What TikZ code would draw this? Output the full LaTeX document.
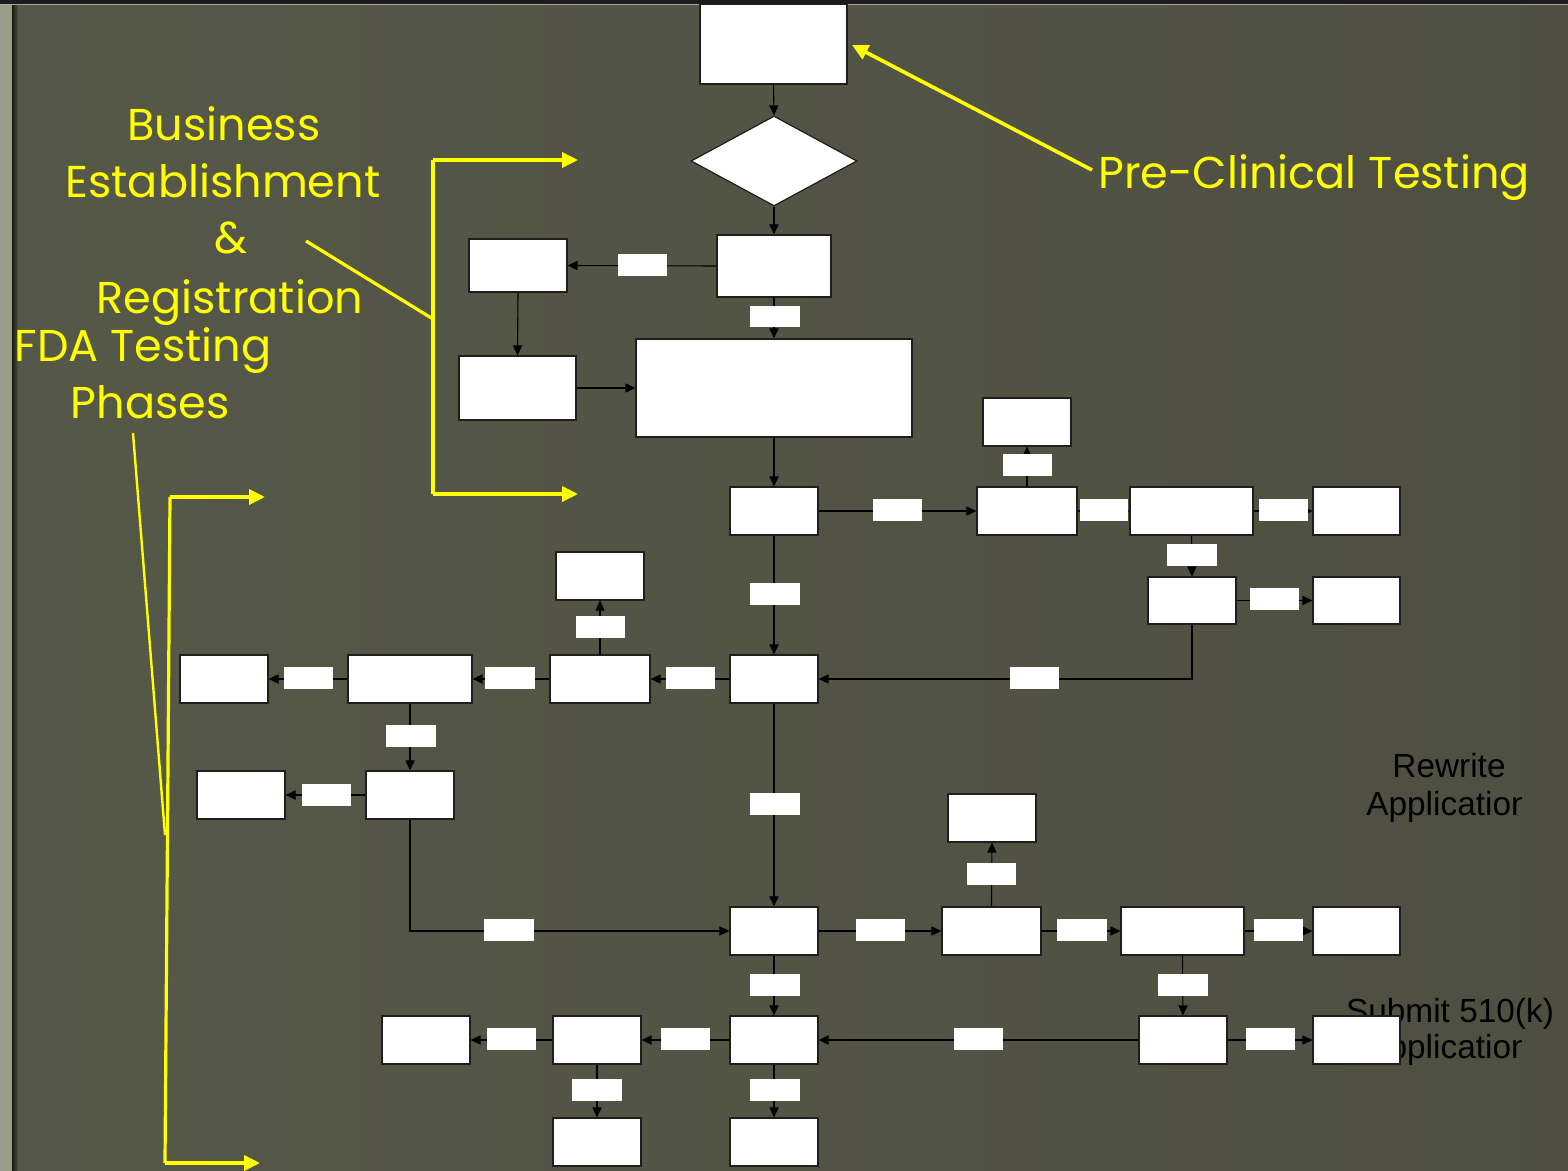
\documentclass[tikz,border=0pt]{standalone}
\usepackage{fontspec}
\setmainfont{Liberation Sans}
\newfontfamily\gothic{Poppins}
\usetikzlibrary{arrows.meta,shapes.geometric}
\definecolor{bgcol}{HTML}{525444}
\definecolor{bgdark}{HTML}{4A4B3E}
\definecolor{stripcol}{HTML}{9B9B8A}
\definecolor{topcol}{HTML}{1C1C1C}
\definecolor{yel}{HTML}{FFFF00}
\definecolor{edge}{HTML}{1E1E1E}
\tikzset{
  box/.style={draw=edge,line width=0.6pt,fill=white,inner sep=0pt},
  lbl/.style={fill=white,inner sep=0pt},
  conn/.style={draw=black,line width=0.55pt,-{Triangle[length=5pt,width=4.6pt]}},
  yarrow/.style={draw=yel,line width=1.8pt,-{Triangle[length=8pt,width=7.5pt]}},
  yline/.style={draw=yel,line width=1.6pt},
  ytext/.style={text=yel,font=\gothic\fontsize{22.3}{26}\selectfont,inner sep=0pt,anchor=base},
  btext/.style={text=black,font=\fontsize{16.7}{20}\selectfont,inner sep=0pt,anchor=base}
}
\newcommand\mybox[5]{\node[box,minimum width={(#4-#2)*0.5pt},minimum height={(#5-#3)*0.5pt}] (#1) at ({(#2+#4)/2},{(#3+#5)/2}) {};}
\newcommand\mylbl[5]{\node[lbl,minimum width={(#4-#2)*0.5pt},minimum height={(#5-#3)*0.5pt}] (#1) at ({(#2+#4)/2},{(#3+#5)/2}) {};}
\begin{document}
\begin{tikzpicture}[x=0.5pt,y=-0.5pt]
\useasboundingbox (0,0) rectangle (1568,1171);
% background
\shade[left color=bgcol!95!white,right color=bgdark] (0,0) rectangle (1568,1171);
\fill[bgcol,opacity=0.5] (0,0) rectangle (1568,1171);
\fill[stripcol] (0,0) rectangle (12,1171);
\shade[left color=black!70!bgcol,right color=bgcol] (12,0) rectangle (18,1171);
\fill[topcol] (0,0) rectangle (1568,4);
\draw[gray!70,line width=0.5pt] (0,4.5) -- (1568,4.5);

% black texts (behind boxes)
\node[btext] (rw1) at (1449,777) {Rewrite};
\begin{scope}
\clip (1300,700) rectangle (1521,1100);
\node[btext] (rw2) at (1448,815) {Application};
\node[btext] (sb2) at (1448,1058) {Application};
\end{scope}
\node[btext] (sb1) at (1450,1022) {Submit 510(k)};

% boxes
\mybox{top}{700}{4}{847}{84}
\node[box,shape=diamond,minimum width=83pt,minimum height=45pt] (dia) at (774,161) {};
\mybox{B}{717}{235}{831}{297}
\mybox{C}{469}{239}{567}{292}
\mybox{D}{459}{356}{576}{420}
\mybox{E}{636}{339}{912}{437}
\mybox{F}{730}{487}{818}{535}
\mybox{G}{977}{487}{1077}{535}
\mybox{H}{983}{398}{1071}{446}
\mybox{I}{1130}{487}{1253}{535}
\mybox{J}{1313}{487}{1400}{535}
\mybox{K}{1148}{577}{1236}{624}
\mybox{L}{1313}{577}{1400}{624}
\mybox{M}{730}{655}{818}{703}
\mybox{N}{550}{655}{650}{703}
\mybox{O}{556}{552}{644}{600}
\mybox{P}{348}{655}{472}{703}
\mybox{Q}{180}{655}{268}{703}
\mybox{R}{366}{771}{454}{819}
\mybox{S}{197}{771}{285}{819}
\mybox{T}{730}{907}{818}{955}
\mybox{U}{942}{907}{1041}{955}
\mybox{V}{948}{794}{1036}{842}
\mybox{W}{1121}{907}{1244}{955}
\mybox{X}{1313}{907}{1400}{955}
\mybox{Y}{1139}{1016}{1227}{1064}
\mybox{Z}{1313}{1016}{1400}{1064}
\mybox{AA}{730}{1016}{818}{1064}
\mybox{AB}{553}{1016}{641}{1064}
\mybox{AC}{382}{1016}{470}{1064}
\mybox{AD}{553}{1118}{641}{1166}
\mybox{AE}{730}{1118}{818}{1166}

% connectors
\draw[conn] (top.south) -- (dia.north);
\draw[conn] (dia.south) -- (B.north);
\draw[conn] (B.west) -- (C.east);
\draw[conn] (C.south) -- (D.north);
\draw[conn] (D.east) -- (E.west);
\draw[conn] (B.south) -- (E.north);
\draw[conn] (E.south) -- (F.north);
\draw[conn] (F.east) -- (G.west);
\draw[conn] (G.north) -- (H.south);
\draw[conn] (G.east) -- (I.west);
\draw[conn] (I.east) -- (J.west);
\draw[conn] (I.south) -- (K.north);
\draw[conn] (K.east) -- (L.west);
\draw[conn] (K.south) |- (M.east);
\draw[conn] (F.south) -- (M.north);
\draw[conn] (M.west) -- (N.east);
\draw[conn] (N.north) -- (O.south);
\draw[conn] (N.west) -- (P.east);
\draw[conn] (P.west) -- (Q.east);
\draw[conn] (P.south) -- (R.north);
\draw[conn] (R.west) -- (S.east);
\draw[conn] (R.south) |- (T.west);
\draw[conn] (M.south) -- (T.north);
\draw[conn] (T.east) -- (U.west);
\draw[conn] (U.north) -- (V.south);
\draw[conn] (U.east) -- (W.west);
\draw[conn] (W.east) -- (X.west);
\draw[conn] (W.south) -- (Y.north);
\draw[conn] (Y.west) -- (AA.east);
\draw[conn] (Y.east) -- (Z.west);
\draw[conn] (T.south) -- (AA.north);
\draw[conn] (AA.west) -- (AB.east);
\draw[conn] (AB.west) -- (AC.east);
\draw[conn] (AB.south) -- (AD.north);
\draw[conn] (AA.south) -- (AE.north);

% label boxes
\mylbl{l1}{618}{254}{667}{276}
\mylbl{l2}{750}{306}{800}{327}
\mylbl{l3}{873}{499}{922}{521}
\mylbl{l4}{1003}{454}{1052}{476}
\mylbl{l5}{1080}{499}{1128}{521}
\mylbl{l6}{1259}{499}{1308}{521}
\mylbl{l7}{1167}{544}{1217}{566}
\mylbl{l8}{1250}{588}{1299}{610}
\mylbl{l9}{750}{583}{800}{605}
\mylbl{l10}{1010}{667}{1059}{689}
\mylbl{l11}{666}{667}{715}{689}
\mylbl{l12}{576}{616}{625}{638}
\mylbl{l13}{485}{667}{535}{689}
\mylbl{l14}{284}{667}{333}{689}
\mylbl{l15}{386}{725}{436}{747}
\mylbl{l16}{302}{784}{351}{806}
\mylbl{l17}{750}{793}{800}{815}
\mylbl{l18}{484}{919}{534}{941}
\mylbl{l19}{856}{919}{905}{941}
\mylbl{l20}{967}{863}{1016}{885}
\mylbl{l21}{1057}{919}{1107}{941}
\mylbl{l22}{1254}{919}{1303}{941}
\mylbl{l23}{1158}{974}{1208}{996}
\mylbl{l24}{954}{1028}{1003}{1050}
\mylbl{l25}{1246}{1028}{1295}{1050}
\mylbl{l26}{750}{974}{800}{996}
\mylbl{l27}{661}{1028}{710}{1050}
\mylbl{l28}{487}{1028}{536}{1050}
\mylbl{l29}{572}{1079}{622}{1101}
\mylbl{l30}{750}{1079}{800}{1101}

% yellow annotations
\node[ytext] (b1) at (224,141) {Business};
\node[ytext] (b2) at (223,198) {Establishment};
\node[ytext] (b3) at (231,254) {\&};
\node[ytext] (b4) at (230,314) {Registration};
\node[ytext] (f1) at (143,362) {FDA Testing};
\node[ytext] (f2) at (150,419) {Phases};
\node[ytext] (pc) at (1314,189) {Pre-Clinical Testing};

\coordinate (pcs) at (1092,170);
\coordinate (pce) at (852,45);
\draw[yarrow] (pcs) -- (pce);
\coordinate (ba) at (306,241);
\coordinate (bb) at (433,319);
\coordinate (bt) at (433,160);
\coordinate (bbot) at (433,494);
\coordinate (btt) at (578,160);
\coordinate (bbt) at (578,494);
\draw[yline] (ba) -- (bb);
\draw[yline] (bt) -- (bbot);
\draw[yarrow] (bt) -- (btt);
\draw[yarrow] (bbot) -- (bbt);
\coordinate (fa) at (133,433);
\coordinate (fb) at (165,835);
\coordinate (ft) at (170,497);
\coordinate (fbot) at (165,1163);
\coordinate (ftt) at (265,497);
\coordinate (fbt) at (260,1163);
\draw[yline,line width=1.2pt] (fa) -- (fb);
\draw[yline] (ft) -- (fbot);
\draw[yarrow] (ft) -- (ftt);
\draw[yarrow] (fbot) -- (fbt);
\end{tikzpicture}
\end{document}
